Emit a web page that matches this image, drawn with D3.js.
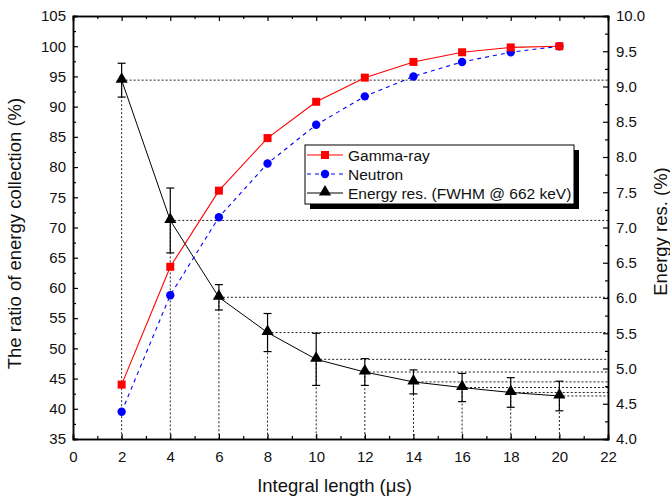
<!DOCTYPE html>
<html>
<head>
<meta charset="utf-8">
<script src="https://cdn.jsdelivr.net/npm/d3@7"></script>
<style>
	body { margin: 0; background: #fff; }
	svg { font-family: "Liberation Sans", Arial, sans-serif; }
</style>
</head>
<body>
<div class="svg-container"></div>
<script>
(function () {

	"use strict";

	// data
	var lengths = [2, 4, 6, 8, 10, 12, 14, 16, 18, 20];
	var gamma = [44.0, 63.5, 76.1, 84.8, 90.8, 94.8, 97.4, 99.0, 99.8, 100.0];
	var neutron = [39.5, 58.8, 71.7, 80.6, 87.0, 91.7, 95.0, 97.4, 99.0, 100.0];
	var eres = [9.09, 7.10, 6.01, 5.51, 5.13, 4.95, 4.81, 4.73, 4.66, 4.61];
	var eresErr = [0.24, 0.46, 0.18, 0.27, 0.37, 0.19, 0.17, 0.2, 0.21, 0.21];

	var xTicks = [0, 2, 4, 6, 8, 10, 12, 14, 16, 18, 20, 22];
	var yLeftTicks = [35, 40, 45, 50, 55, 60, 65, 70, 75, 80, 85, 90, 95, 100, 105];
	var yRightTicks = [4.0, 4.5, 5.0, 5.5, 6.0, 6.5, 7.0, 7.5, 8.0, 8.5, 9.0, 9.5, 10.0];

	var legendNames = ["Gamma-ray", "Neutron", "Energy res. (FWHM @ 662 keV)"];

	var margin = { "top": 16, "right": 62, "bottom": 59, "left": 73 },
		container_width = 670,
		container_height = 498,
		width = container_width - margin.left - margin.right,
		height = container_height - margin.top - margin.bottom;

	var svg = d3.select(".svg-container").append("svg")
		.attr("width", container_width)
		.attr("height", container_height)
		.append("g")
		.attr("transform", "translate(" + margin.left + "," + margin.top + ")");

	var x = d3.scaleLinear().domain([0, 22]).range([0, width]);
	var yL = d3.scaleLinear().domain([35, 105]).range([height, 0]);
	var yR = d3.scaleLinear().domain([4, 10]).range([height, 0]);

	// drop lines to the bottom and the right axis
	var drops = svg.append("g")
		.attr("stroke", "#222")
		.attr("stroke-width", 1)
		.attr("stroke-dasharray", "2,2")
		.attr("fill", "none");

	lengths.forEach(function (d, i) {
		drops.append("line")
			.attr("x1", x(d)).attr("x2", x(d))
			.attr("y1", yR(eres[i])).attr("y2", height);
		drops.append("line")
			.attr("x1", x(d)).attr("x2", width)
			.attr("y1", yR(eres[i])).attr("y2", yR(eres[i]));
	});

	// axes, ticks pointing inward
	function drawAxis(axis, transform, size) {
		var g = svg.append("g").attr("transform", transform).call(axis.tickSize(size).tickPadding(6));
		g.select(".domain").attr("stroke-width", 1.5);
		g.selectAll(".tick line").attr("stroke-width", 1.2);
		g.selectAll("text").attr("font-size", 15).attr("fill", "#111");
		return g;
	}

	var minorX = d3.range(1, 22, 2);
	var minorL = d3.range(37.5, 105, 5);
	var minorR = d3.range(4.25, 10, 0.5);

	var bottomAx = drawAxis(d3.axisBottom(x).tickValues(xTicks).tickFormat(d3.format("d")), "translate(0," + height + ")", -5);
	bottomAx.selectAll("text").attr("dy", "1.15em");
	drawAxis(d3.axisBottom(x).tickValues(minorX).tickFormat(""), "translate(0," + height + ")", -3);
	drawAxis(d3.axisTop(x).tickValues(xTicks).tickFormat(""), "translate(0,0)", -5);
	drawAxis(d3.axisTop(x).tickValues(minorX).tickFormat(""), "translate(0,0)", -3);

	drawAxis(d3.axisLeft(yL).tickValues(yLeftTicks).tickFormat(d3.format("d")), "translate(0,0)", -5)
		.selectAll("text").attr("x", -7);
	drawAxis(d3.axisLeft(yL).tickValues(minorL).tickFormat(""), "translate(0,0)", -3);

	drawAxis(d3.axisRight(yR).tickValues(yRightTicks).tickFormat(d3.format(".1f")), "translate(" + width + ",0)", -5)
		.selectAll("text").attr("x", 8);
	drawAxis(d3.axisRight(yR).tickValues(minorR).tickFormat(""), "translate(" + width + ",0)", -3);

	// axis titles
	svg.append("text")
		.attr("x", width / 2 - 6).attr("y", height + 53)
		.attr("text-anchor", "middle").attr("font-size", 18.5).attr("fill", "#111")
		.text("Integral length (\u03bcs)");

	svg.append("text")
		.attr("transform", "translate(" + (-52) + "," + (height / 2 + 6) + ") rotate(-90)")
		.attr("text-anchor", "middle").attr("font-size", 18.5).attr("fill", "#111")
		.text("The ratio of energy collection (%)");

	svg.append("text")
		.attr("transform", "translate(" + (width + 59) + "," + (height / 2 + 4) + ") rotate(-90)")
		.attr("text-anchor", "middle").attr("font-size", 18.5).attr("fill", "#111")
		.text("Energy res. (%)");

	// lines
	var lineL = d3.line().x(function (d, i) { return x(lengths[i]); }).y(function (d) { return yL(d); });
	var lineR = d3.line().x(function (d, i) { return x(lengths[i]); }).y(function (d) { return yR(d); });

	svg.append("path").datum(eres).attr("d", lineR)
		.attr("fill", "none").attr("stroke", "#000").attr("stroke-width", 1);

	svg.append("path").datum(neutron).attr("d", lineL)
		.attr("fill", "none").attr("stroke", "#0000ff").attr("stroke-width", 1.1)
		.attr("stroke-dasharray", "4,4");

	svg.append("path").datum(gamma).attr("d", lineL)
		.attr("fill", "none").attr("stroke", "#ff0000").attr("stroke-width", 1.1);

	// error bars
	var err = svg.append("g").attr("stroke", "#000").attr("stroke-width", 1.2);
	lengths.forEach(function (d, i) {
		var top = yR(eres[i] + eresErr[i]), bot = yR(eres[i] - eresErr[i]), cx = x(d);
		err.append("line").attr("x1", cx).attr("x2", cx).attr("y1", top).attr("y2", bot);
		err.append("line").attr("x1", cx - 4).attr("x2", cx + 4).attr("y1", top).attr("y2", top);
		err.append("line").attr("x1", cx - 4).attr("x2", cx + 4).attr("y1", bot).attr("y2", bot);
	});

	// markers
	var tri = d3.symbol().type(d3.symbolTriangle).size(64);

	svg.selectAll(".tri").data(eres).enter().append("path")
		.attr("class", "tri")
		.attr("d", tri)
		.attr("transform", function (d, i) { return "translate(" + x(lengths[i]) + "," + (yR(d) - 1) + ")"; })
		.attr("fill", "#000");

	svg.selectAll(".dot").data(neutron).enter().append("circle")
		.attr("class", "dot")
		.attr("cx", function (d, i) { return x(lengths[i]); })
		.attr("cy", function (d) { return yL(d); })
		.attr("r", 4.2)
		.attr("fill", "#0000ff");

	svg.selectAll(".sq").data(gamma).enter().append("rect")
		.attr("class", "sq")
		.attr("x", function (d, i) { return x(lengths[i]) - 4; })
		.attr("y", function (d) { return yL(d) - 4; })
		.attr("width", 8).attr("height", 8)
		.attr("fill", "#ff0000");

	// legend
	var lg = svg.append("g").attr("transform", "translate(" + (305 - margin.left) + "," + (145 - margin.top) + ")");
	var lgW = 269, lgH = 59;
	lg.append("rect").attr("x", 5).attr("y", 5).attr("width", lgW).attr("height", lgH).attr("fill", "#000");
	lg.append("rect").attr("width", lgW).attr("height", lgH)
		.attr("fill", "#fff").attr("stroke", "#000").attr("stroke-width", 1);

	var rows = lg.selectAll(".row").data(legendNames).enter().append("g")
		.attr("class", "row")
		.attr("transform", function (d, i) { return "translate(0," + (10 + i * 19) + ")"; });

	rows.append("line")
		.attr("x1", 2).attr("x2", 38).attr("y1", 0).attr("y2", 0)
		.attr("stroke", function (d, i) { return ["#ff0000", "#0000ff", "#000"][i]; })
		.attr("stroke-dasharray", function (d, i) { return i === 1 ? "4,4" : null; });

	rows.each(function (d, i) {
		var r = d3.select(this);
		if (i === 0) r.append("rect").attr("x", 16).attr("y", -4).attr("width", 8).attr("height", 8).attr("fill", "#ff0000");
		if (i === 1) r.append("circle").attr("cx", 20).attr("cy", 0).attr("r", 4.2).attr("fill", "#0000ff");
		if (i === 2) r.append("path").attr("d", tri).attr("transform", "translate(20,-1)").attr("fill", "#000");
	});

	rows.append("text")
		.attr("x", 43).attr("y", 5.5)
		.attr("font-size", 15.5).attr("fill", "#111")
		.text(function (d) { return d; });

})();
</script>
</body>
</html>
